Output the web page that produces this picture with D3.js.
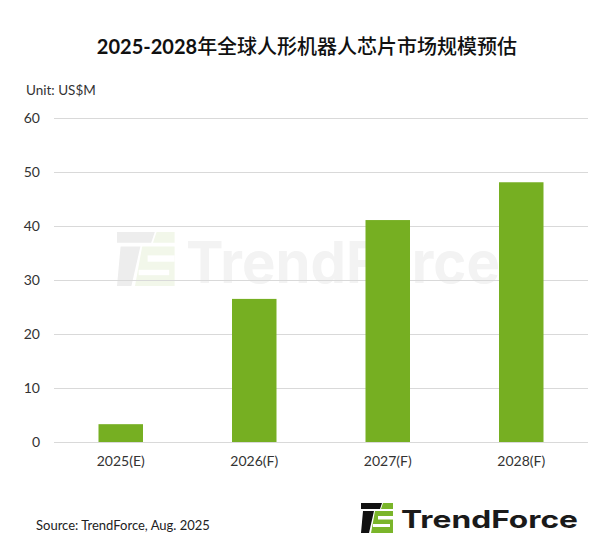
<!DOCTYPE html>
<html>
<head>
<meta charset="utf-8">
<script src="https://cdn.jsdelivr.net/npm/d3@7"></script>
<style>
  html, body { margin: 0; padding: 0; background: #fff; }
  svg { display: block; }
</style>
</head>
<body>
<svg id="chart" width="600" height="549"></svg>
<script>
// ---- data ----
const categories = ["2025(E)", "2026(F)", "2027(F)", "2028(F)"];
const values = [3.3, 26.5, 41.1, 48.1];
const yTicks = [0, 10, 20, 30, 40, 50, 60];
const titleNum = "2025-2028";
const titleCJK = "年全球人形机器人芯片市场规模预估";
const unitLabel = "Unit: US$M";
const sourceLabel = "Source: TrendForce, Aug. 2025";
const brand = "TrendForce";

const W = 600, H = 549;
const margin = { left: 54, right: 12, top: 118, bottom: 107 };
const svg = d3.select("#chart");
const font = "Lato, 'Open Sans', sans-serif";
const green = "#76AF22";

const x = d3.scaleBand()
  .domain(categories)
  .range([margin.left, W - margin.right])
  .paddingInner(2/3)
  .paddingOuter(1/3);

const y = d3.scaleLinear()
  .domain([0, 60])
  .range([H - margin.bottom, margin.top]);

// ---- logo helper ----
function drawLogo(g, s, dark, light) {
  g.append("polygon").attr("points", "0,0 21,0 19,6 0,6").attr("fill", dark);
  g.append("polygon").attr("points", "22,0 32,0 32,6 20,6").attr("fill", light);
  g.append("polygon").attr("points", "2,8 13,8 8,30 0,30").attr("fill", dark);
  g.append("polygon").attr("points", "14,8 32,8 32,30 10,30").attr("fill", light);
  g.append("rect").attr("x", 17).attr("y", 13).attr("width", 15).attr("height", 3.5).attr("fill", "#fff");
  g.append("rect").attr("x", 12).attr("y", 21).attr("width", 17).attr("height", 3).attr("fill", "#fff");
  g.attr("transform", g.attr("transform") + ` scale(${s})`);
}

// ---- watermark ----
const wm = svg.append("g");
const wmIcon = wm.append("g").attr("transform", "translate(117,232)");
drawLogo(wmIcon, 1.8, "#ededed", "#f2f7ea");
wm.append("text")
  .attr("x", 186).attr("y", 283)
  .attr("font-family", "Inter, Roboto, sans-serif")
  .attr("font-weight", 700)
  .attr("font-size", 58)
  .attr("textLength", 314)
  .attr("lengthAdjust", "spacingAndGlyphs")
  .attr("fill", "#f3f3f3")
  .text(brand);

// ---- gridlines ----
svg.append("g")
  .selectAll("line")
  .data(yTicks)
  .join("line")
  .attr("x1", margin.left).attr("x2", W - margin.right)
  .attr("y1", d => Math.round(y(d)) + 0.5).attr("y2", d => Math.round(y(d)) + 0.5)
  .attr("stroke", "#d9d9d9").attr("stroke-width", 1);

// ---- y axis labels ----
const yAxis = d3.axisLeft(y).tickValues(yTicks).tickSize(0).tickPadding(0);
const yg = svg.append("g").attr("transform", "translate(40,0)").call(yAxis);
yg.select(".domain").remove();
yg.selectAll("text")
  .attr("font-family", font).attr("font-size", 14).attr("fill", "#333");

// ---- bars ----
svg.append("g")
  .selectAll("rect")
  .data(values)
  .join("rect")
  .attr("x", (d, i) => x(categories[i]))
  .attr("width", x.bandwidth())
  .attr("y", d => y(d))
  .attr("height", d => y(0) - y(d))
  .attr("fill", green);

// ---- x axis labels ----
const xAxis = d3.axisBottom(x).tickSize(0).tickPadding(0);
const xg = svg.append("g").attr("transform", `translate(0,${y(0) + 14})`).call(xAxis);
xg.select(".domain").remove();
xg.selectAll("text")
  .attr("font-family", font).attr("font-size", 14).attr("fill", "#333");

// ---- title ----
const title = svg.append("text")
  .attr("x", 307).attr("y", 54)
  .attr("text-anchor", "middle")
  .attr("fill", "#111");
title.append("tspan")
  .attr("font-family", "Lato, sans-serif").attr("font-weight", 700).attr("font-size", 20)
  .text(titleNum);
title.append("tspan")
  .attr("font-family", "'Noto Sans CJK SC', sans-serif").attr("font-weight", 500).attr("font-size", 20)
  .text(titleCJK);

// ---- unit ----
svg.append("text")
  .attr("x", 26).attr("y", 95)
  .attr("font-family", font).attr("font-size", 13.5).attr("fill", "#333")
  .text(unitLabel);

// ---- source ----
svg.append("text")
  .attr("x", 36).attr("y", 530)
  .attr("font-family", font).attr("font-size", 13).attr("fill", "#222")
  .text(sourceLabel);

// ---- bottom logo ----
const logoIcon = svg.append("g").attr("transform", "translate(361,503)");
drawLogo(logoIcon, 1.0, "#111", "#7ab52a");
svg.append("text")
  .attr("x", 401).attr("y", 528)
  .attr("font-family", "Inter, Roboto, sans-serif")
  .attr("font-weight", 700)
  .attr("font-size", 24)
  .attr("textLength", 177)
  .attr("lengthAdjust", "spacingAndGlyphs")
  .attr("fill", "#1a1a1a")
  .text(brand);
</script>
</body>
</html>
